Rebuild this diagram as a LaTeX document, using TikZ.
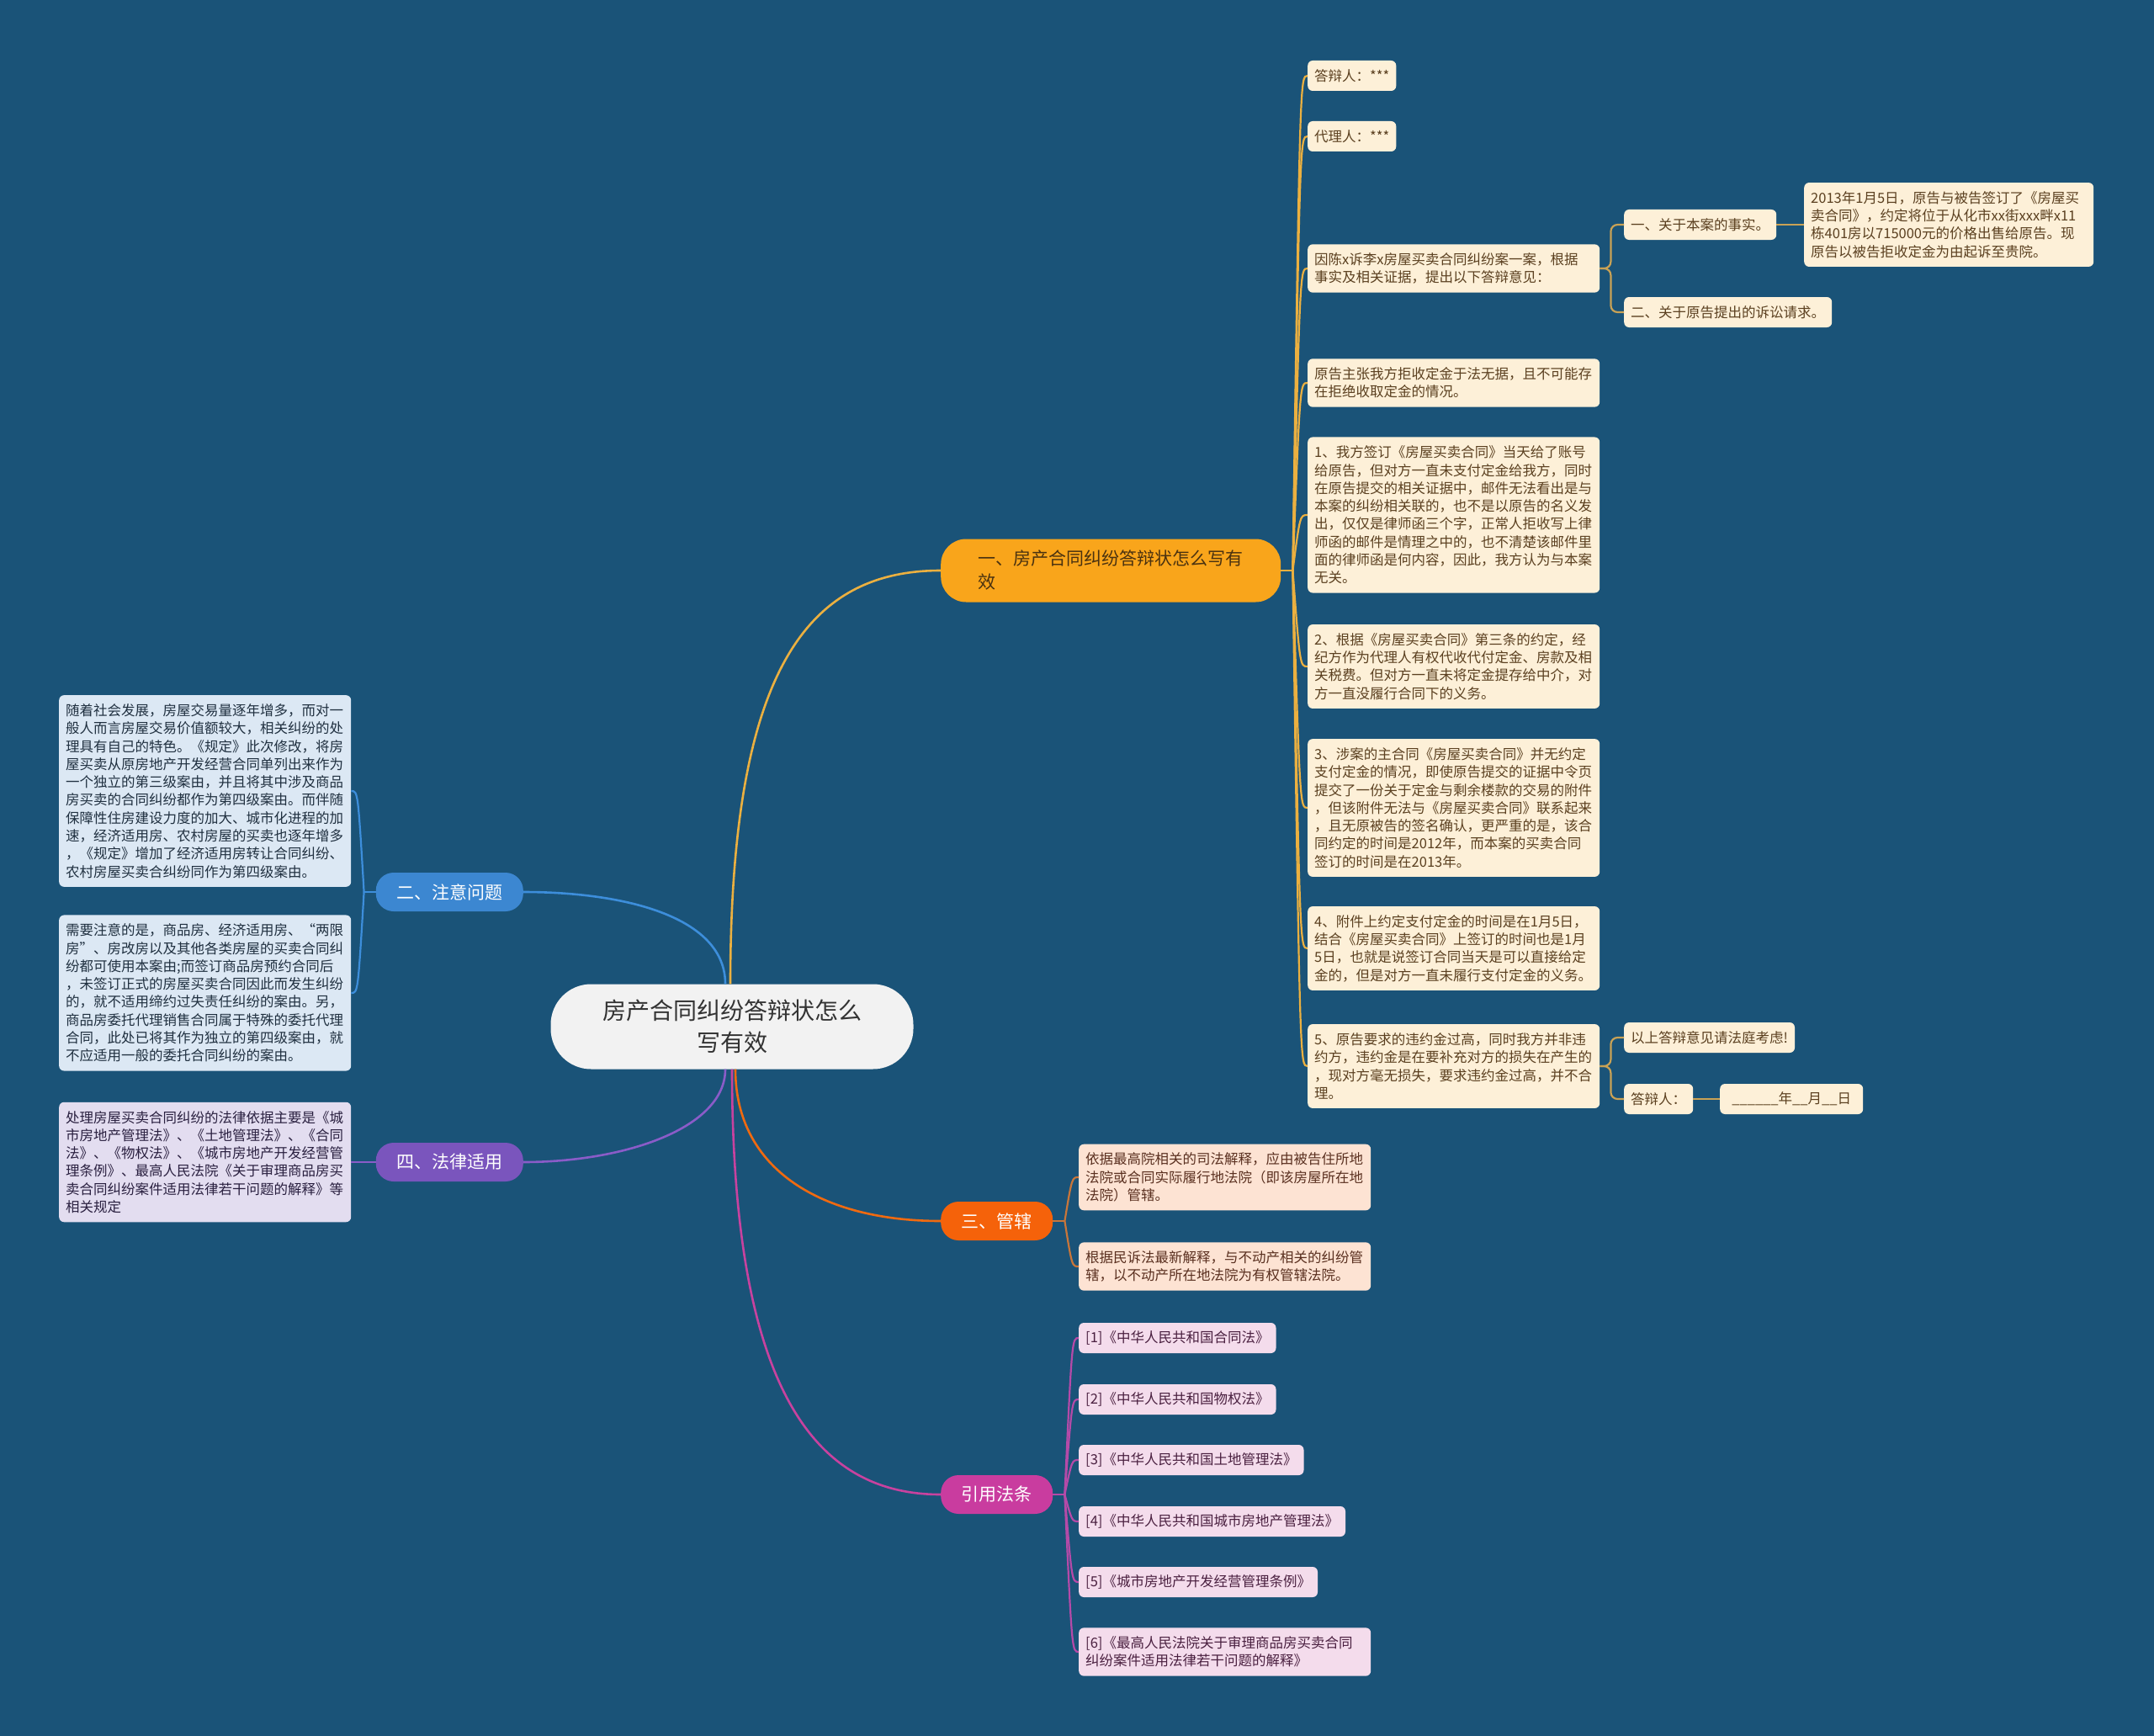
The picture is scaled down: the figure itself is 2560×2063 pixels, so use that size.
\documentclass[tikz,border=0pt]{standalone}
\usepackage{fontspec}
\setmainfont{Noto Sans CJK SC}
\usetikzlibrary{positioning}

\definecolor{bgblue}{HTML}{1A5378}
\definecolor{hubfill}{HTML}{F2F2F2}
\definecolor{hubtext}{HTML}{333333}
\definecolor{ambfill}{HTML}{F9A51B}
\definecolor{ambtext}{HTML}{4A3210}
\definecolor{ambline}{HTML}{EBB040}
\definecolor{tanline}{HTML}{C9A255}
\definecolor{creamfill}{HTML}{FDF0D8}
\definecolor{creamtext}{HTML}{5B4020}
\definecolor{skyfill}{HTML}{3C87D1}
\definecolor{skyline}{HTML}{3D8EDB}
\definecolor{skynote}{HTML}{DCE8F4}
\definecolor{skytext}{HTML}{203040}
\definecolor{lilfill}{HTML}{7A55BD}
\definecolor{lilline}{HTML}{8A5CC8}
\definecolor{lilnote}{HTML}{E3DDF0}
\definecolor{liltext}{HTML}{2A2040}
\definecolor{rustfill}{HTML}{F5620A}
\definecolor{rustline}{HTML}{F06A10}
\definecolor{rusttwig}{HTML}{C8763A}
\definecolor{rustnote}{HTML}{FDE3D3}
\definecolor{rusttext}{HTML}{5A3020}
\definecolor{rosefill}{HTML}{C93C9F}
\definecolor{roseline}{HTML}{C8429F}
\definecolor{rosetwig}{HTML}{B54AA8}
\definecolor{rosenote}{HTML}{F4DCEC}
\definecolor{rosetext}{HTML}{4A2040}

\tikzset{
  trunk/.style={line width=2.6pt},
  twig/.style={line width=2.2pt},
  hub/.style={fill=hubfill, text=hubtext, rounded corners=48pt, minimum width=431pt, minimum height=101pt, inner sep=0pt, align=center, font=\fontsize{28}{38}\selectfont},
  topic/.style={anchor=west, inner sep=0pt, minimum height=46pt, rounded corners=21pt, text=white, font=\fontsize{21}{28}\selectfont},
  nlines/.style={minimum height={#1*21.3pt+14.7pt}},
  leaf/.style={anchor=west, rounded corners=6pt, inner xsep=8pt, inner ysep=2pt, align=left, nlines=1, font=\fontsize{16.5}{21.3}\selectfont},
  wide/.style={text width=331pt},
  cream/.style={leaf, fill=creamfill, text=creamtext},
  skybox/.style={leaf, fill=skynote, text=skytext},
  lilbox/.style={leaf, fill=lilnote, text=liltext},
  rustbox/.style={leaf, fill=rustnote, text=rusttext},
  rosebox/.style={leaf, fill=rosenote, text=rosetext}
}

\begin{document}
\begin{tikzpicture}[x=1pt, y=-1pt]
  \fill[bgblue] (0,0) rectangle (2560,2063);
  \useasboundingbox (0,0) rectangle (2560,2063);

  % centre et branches
  \node[hub] (root) at (870,1220) {房产合同纠纷答辩状怎么\\写有效};
  \node[topic, fill=ambfill, text=ambtext, text width=316pt, inner xsep=44pt, minimum height=75pt, rounded corners=30pt, align=left] (b1) at (1118,678) {一、房产合同纠纷答辩状怎么写有\\效};
  \node[topic, fill=skyfill, minimum width=175pt, anchor=east] (zhuyi) at (622,1060) {二、注意问题};
  \node[topic, fill=lilfill, minimum width=175pt, anchor=east] (falv) at (622,1381) {四、法律适用};
  \node[topic, fill=rustfill, minimum width=133pt] (guanxia) at (1118,1451) {三、管辖};
  \node[topic, fill=rosefill, minimum width=133pt] (yinyong) at (1118,1776) {引用法条};

  % branche un
  \node[cream] (dbr) at (1554,90) {答辩人：***};
  \node[cream] (dlr) at (1554,162) {代理人：***};
  \node[cream, wide, nlines=2] (yinchen) at (1554,319) {因陈x诉李x房屋买卖合同纠纷案一案，根据\\事实及相关证据，提出以下答辩意见：};
  \node[cream] (shishi) at (1930,267) {一、关于本案的事实。};
  \node[cream] (qingqiu) at (1930,371) {二、关于原告提出的诉讼请求。};
  \node[cream, text width=328pt, nlines=4] (jishi) at (2144,267) {2013年1月5日，原告与被告签订了《房屋买\\卖合同》，约定将位于从化市xx街xxx畔x11\\栋401房以715000元的价格出售给原告。现\\原告以被告拒收定金为由起诉至贵院。};
  \node[cream, wide, nlines=2] (zhuzhang) at (1554,455) {原告主张我方拒收定金于法无据，且不可能存\\在拒绝收取定金的情况。};
  \node[cream, wide, nlines=8] (yi) at (1554,612) {1、我方签订《房屋买卖合同》当天给了账号\\给原告，但对方一直未支付定金给我方，同时\\在原告提交的相关证据中，邮件无法看出是与\\本案的纠纷相关联的，也不是以原告的名义发\\出，仅仅是律师函三个字，正常人拒收写上律\\师函的邮件是情理之中的，也不清楚该邮件里\\面的律师函是何内容，因此，我方认为与本案\\无关。};
  \node[cream, wide, nlines=4] (er) at (1554,792) {2、根据《房屋买卖合同》第三条的约定，经\\纪方作为代理人有权代收代付定金、房款及相\\关税费。但对方一直未将定金提存给中介，对\\方一直没履行合同下的义务。};
  \node[cream, wide, nlines=7] (san) at (1554,960) {3、涉案的主合同《房屋买卖合同》并无约定\\支付定金的情况，即使原告提交的证据中令页\\提交了一份关于定金与剩余楼款的交易的附件\\，但该附件无法与《房屋买卖合同》联系起来\\，且无原被告的签名确认，更严重的是，该合\\同约定的时间是2012年，而本案的买卖合同\\签订的时间是在2013年。};
  \node[cream, wide, nlines=4] (si) at (1554,1127) {4、附件上约定支付定金的时间是在1月5日，\\结合《房屋买卖合同》上签订的时间也是1月\\5日，也就是说签订合同当天是可以直接给定\\金的，但是对方一直未履行支付定金的义务。};
  \node[cream, wide, nlines=4] (wu) at (1554,1267) {5、原告要求的违约金过高，同时我方并非违\\约方，违约金是在要补充对方的损失在产生的\\，现对方毫无损失，要求违约金过高，并不合\\理。};
  \node[cream] (kaolv) at (1930,1233) {以上答辩意见请法庭考虑!};
  \node[cream] (qianming) at (1930,1306) {答辩人：};
  \node[cream, minimum width=170pt] (riqi) at (2044,1306) {\_\_\_\_\_\_年\_\_月\_\_日};

  % branche deux et quatre
  \node[skybox, wide, nlines=10] (suizhe) at (70,940) {随着社会发展，房屋交易量逐年增多，而对一\\般人而言房屋交易价值额较大，相关纠纷的处\\理具有自己的特色。《规定》此次修改，将房\\屋买卖从原房地产开发经营合同单列出来作为\\一个独立的第三级案由，并且将其中涉及商品\\房买卖的合同纠纷都作为第四级案由。而伴随\\保障性住房建设力度的加大、城市化进程的加\\速，经济适用房、农村房屋的买卖也逐年增多\\，《规定》增加了经济适用房转让合同纠纷、\\农村房屋买卖合纠纷同作为第四级案由。};
  \node[skybox, wide, nlines=8] (xuyao) at (70,1180) {需要注意的是，商品房、经济适用房、“两限\\房”、房改房以及其他各类房屋的买卖合同纠\\纷都可使用本案由;而签订商品房预约合同后\\，未签订正式的房屋买卖合同因此而发生纠纷\\的，就不适用缔约过失责任纠纷的案由。另，\\商品房委托代理销售合同属于特殊的委托代理\\合同，此处已将其作为独立的第四级案由，就\\不应适用一般的委托合同纠纷的案由。};
  \node[lilbox, wide, nlines=6] (chuli) at (70,1381) {处理房屋买卖合同纠纷的法律依据主要是《城\\市房地产管理法》、《土地管理法》、《合同\\法》、《物权法》、《城市房地产开发经营管\\理条例》、最高人民法院《关于审理商品房买\\卖合同纠纷案件适用法律若干问题的解释》等\\相关规定};

  % branche trois
  \node[rustbox, wide, nlines=3] (yiju) at (1282,1399) {依据最高院相关的司法解释，应由被告住所地\\法院或合同实际履行地法院（即该房屋所在地\\法院）管辖。};
  \node[rustbox, wide, nlines=2] (genju) at (1282,1505) {根据民诉法最新解释，与不动产相关的纠纷管\\辖，以不动产所在地法院为有权管辖法院。};

  % references
  \node[rosebox] (fa1) at (1282,1590) {[1]《中华人民共和国合同法》};
  \node[rosebox] (fa2) at (1282,1663) {[2]《中华人民共和国物权法》};
  \node[rosebox] (fa3) at (1282,1735) {[3]《中华人民共和国土地管理法》};
  \node[rosebox] (fa4) at (1282,1808) {[4]《中华人民共和国城市房地产管理法》};
  \node[rosebox] (fa5) at (1282,1880) {[5]《城市房地产开发经营管理条例》};
  \node[rosebox, wide, nlines=2] (fa6) at (1282,1963) {[6]《最高人民法院关于审理商品房买卖合同\\纠纷案件适用法律若干问题的解释》};

  % liaisons du centre
  \draw[ambline, trunk] ([xshift=-2pt]root.north) .. controls +(0,-370) and +(-160,0) .. (b1.west);
  \draw[skyline, trunk] ([xshift=-8pt]root.north) .. controls +(0,-80) and +(120,0) .. (zhuyi.east);
  \draw[lilline, trunk] ([xshift=-8pt]root.south) .. controls +(0,70) and +(120,0) .. (falv.east);
  \draw[rustline, trunk] ([xshift=4pt]root.south) .. controls +(0,120) and +(-140,0) .. (guanxia.west);
  \draw[roseline, trunk] (root.south) .. controls +(0,380) and +(-150,0) .. (yinyong.west);

  % liaisons des feuilles
  \coordinate (s1) at ([xshift=14pt]b1.east);
  \draw[ambline, twig] (b1.east) -- (s1);
  \foreach \n in {dbr,dlr,yinchen,zhuzhang,yi,er,san,si,wu}
    \draw[ambline, twig] (s1) .. controls ([xshift=-9pt]\n.west) .. (\n.west);
  \draw[tanline, twig, rounded corners=8pt] (yinchen.east) -- ++(13,0) |- (shishi.west);
  \draw[tanline, twig, rounded corners=8pt] (yinchen.east) -- ++(13,0) |- (qingqiu.west);
  \draw[tanline, twig] (shishi.east) -- (jishi.west);
  \draw[tanline, twig, rounded corners=8pt] (wu.east) -- ++(13,0) |- (kaolv.west);
  \draw[tanline, twig, rounded corners=8pt] (wu.east) -- ++(13,0) |- (qianming.west);
  \draw[tanline, twig] (qianming.east) -- (riqi.west);

  \coordinate (s2) at ([xshift=-14pt]zhuyi.west);
  \draw[skyline, twig] (zhuyi.west) -- (s2);
  \foreach \n in {suizhe,xuyao}
    \draw[skyline, twig] (s2) .. controls ([xshift=8pt]\n.east) .. (\n.east);
  \draw[lilline, twig] (falv.west) -- (chuli.east);

  \coordinate (s3) at ([xshift=14pt]guanxia.east);
  \draw[rusttwig, twig] (guanxia.east) -- (s3);
  \foreach \n in {yiju,genju}
    \draw[rusttwig, twig] (s3) .. controls ([xshift=-8pt]\n.west) .. (\n.west);

  \coordinate (s4) at ([xshift=14pt]yinyong.east);
  \draw[rosetwig, twig] (yinyong.east) -- (s4);
  \foreach \n in {fa1,fa2,fa3,fa4,fa5,fa6}
    \draw[rosetwig, twig] (s4) .. controls ([xshift=-8pt]\n.west) .. (\n.west);
\end{tikzpicture}
\end{document}
